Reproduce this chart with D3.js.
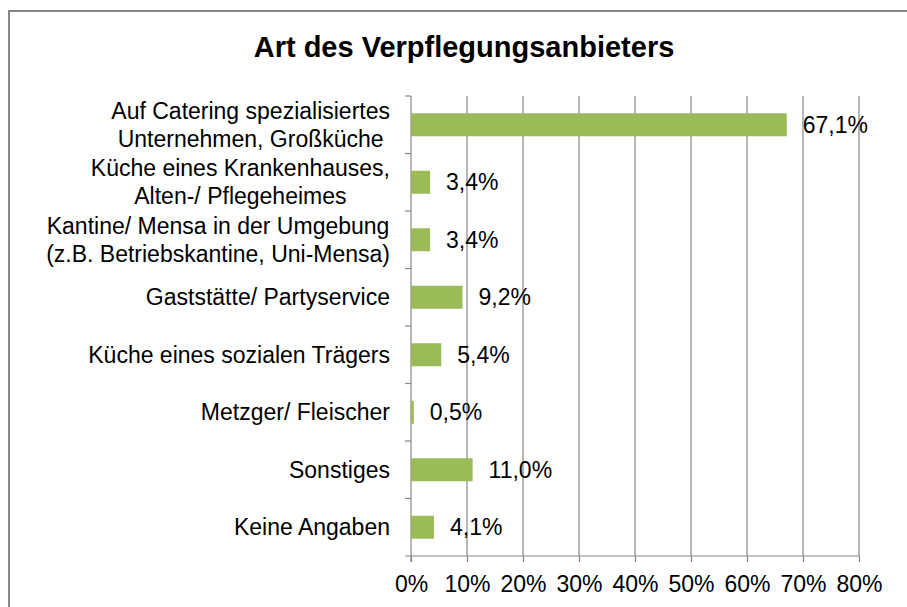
<!DOCTYPE html>
<html>
<head>
<meta charset="utf-8">
<script src="https://cdn.jsdelivr.net/npm/d3@7"></script>
<style>
  body { margin: 0; background: #fff; }
  text { font-family: "Liberation Sans", Arial, sans-serif; fill: #000; }
</style>
</head>
<body>
<script>
var width = 907;
var height = 607;

var categories = [
    "Auf Catering spezialisiertes\nUnternehmen, Großküche",
    "Küche eines Krankenhauses,\nAlten-/ Pflegeheimes",
    "Kantine/ Mensa in der Umgebung\n(z.B. Betriebskantine, Uni-Mensa)",
    "Gaststätte/ Partyservice",
    "Küche eines sozialen Trägers",
    "Metzger/ Fleischer",
    "Sonstiges",
    "Keine Angaben"
];
var values = [67.1, 3.4, 3.4, 9.2, 5.4, 0.5, 11.0, 4.1];
var valueLabels = ["67,1%", "3,4%", "3,4%", "9,2%", "5,4%", "0,5%", "11,0%", "4,1%"];
var xTicks = [0, 10, 20, 30, 40, 50, 60, 70, 80];

var plotLeft = 411, plotRight = 859, plotTop = 96, plotBottom = 556;

var svg = d3.select("body")
    .append("svg")
    .attr("width", width)
    .attr("height", height);

// frame of the chart area
svg.append("rect")
    .attr("x", 9)
    .attr("y", 11)
    .attr("width", 1000)
    .attr("height", 1000)
    .attr("fill", "#fff")
    .attr("stroke", "#868686")
    .attr("stroke-width", 2);

svg.append("text")
    .attr("x", 464)
    .attr("y", 57)
    .attr("text-anchor", "middle")
    .attr("font-size", "29px")
    .attr("font-weight", "bold")
    .text("Art des Verpflegungsanbieters");

var x = d3.scaleLinear().domain([0, 80]).range([plotLeft, plotRight]);
var y = d3.scaleBand()
    .domain(categories)
    .range([plotTop, plotBottom])
    .paddingInner(0.6)
    .paddingOuter(0.3);

// vertical gridlines
svg.append("g")
    .selectAll("line")
    .data(xTicks.slice(1))
    .enter()
    .append("line")
    .attr("x1", d => x(d))
    .attr("x2", d => x(d))
    .attr("y1", plotTop)
    .attr("y2", plotBottom)
    .attr("stroke", "#868686")
    .attr("stroke-width", 1.2);

// x axis
var xAxis = svg.append("g")
    .attr("transform", "translate(0," + plotBottom + ")")
    .call(d3.axisBottom(x)
        .tickValues(xTicks)
        .tickSize(6)
        .tickSizeOuter(0)
        .tickFormat(d => d + "%"));
xAxis.select(".domain").remove();
xAxis.selectAll("line").attr("stroke", "#868686").attr("stroke-width", 1.2);
xAxis.selectAll("text")
    .attr("font-size", "23px")
    .attr("font-family", "Liberation Sans, Arial, sans-serif")
    .attr("y", 20)
    .attr("dy", "0.71em");

svg.append("line")
    .attr("x1", plotLeft - 6)
    .attr("x2", plotRight)
    .attr("y1", plotBottom)
    .attr("y2", plotBottom)
    .attr("stroke", "#868686")
    .attr("stroke-width", 1.2);

// y axis line and category boundary ticks
svg.append("line")
    .attr("x1", plotLeft)
    .attr("x2", plotLeft)
    .attr("y1", plotTop)
    .attr("y2", plotBottom + 6)
    .attr("stroke", "#868686")
    .attr("stroke-width", 1.2);

var bounds = categories.map(c => y(c) - y.step() * y.paddingOuter());
svg.append("g")
    .selectAll("line")
    .data(bounds)
    .enter()
    .append("line")
    .attr("x1", plotLeft - 6)
    .attr("x2", plotLeft)
    .attr("y1", d => d)
    .attr("y2", d => d)
    .attr("stroke", "#868686")
    .attr("stroke-width", 1.2);

// bars
svg.append("g")
    .selectAll("rect")
    .data(values)
    .enter()
    .append("rect")
    .attr("x", x(0))
    .attr("y", (d, i) => y(categories[i]))
    .attr("width", d => x(d) - x(0))
    .attr("height", y.bandwidth())
    .attr("fill", "#9bbb59");

// value labels
svg.append("g")
    .selectAll("text")
    .data(values)
    .enter()
    .append("text")
    .attr("x", d => x(d) + 16)
    .attr("y", (d, i) => y(categories[i]) + y.bandwidth() / 2)
    .attr("dy", "0.35em")
    .attr("font-size", "23px")
    .text((d, i) => valueLabels[i]);

// category labels, lines centred on each other, right edge near the axis
var labelRight = 390;
categories.forEach(function(c) {
    var lines = c.split("\n");
    var cy = y(c) + y.bandwidth() / 2;
    var g = svg.append("g");
    var texts = lines.map(function(l, i) {
        return g.append("text")
            .attr("y", cy + (i - (lines.length - 1) / 2) * 28)
            .attr("dy", "0.35em")
            .attr("font-size", "23px")
            .attr("text-anchor", "middle")
            .text(l);
    });
    var maxW = d3.max(texts, t => t.node().getComputedTextLength());
    texts.forEach(t => t.attr("x", labelRight - maxW / 2));
});
</script>
</body>
</html>
